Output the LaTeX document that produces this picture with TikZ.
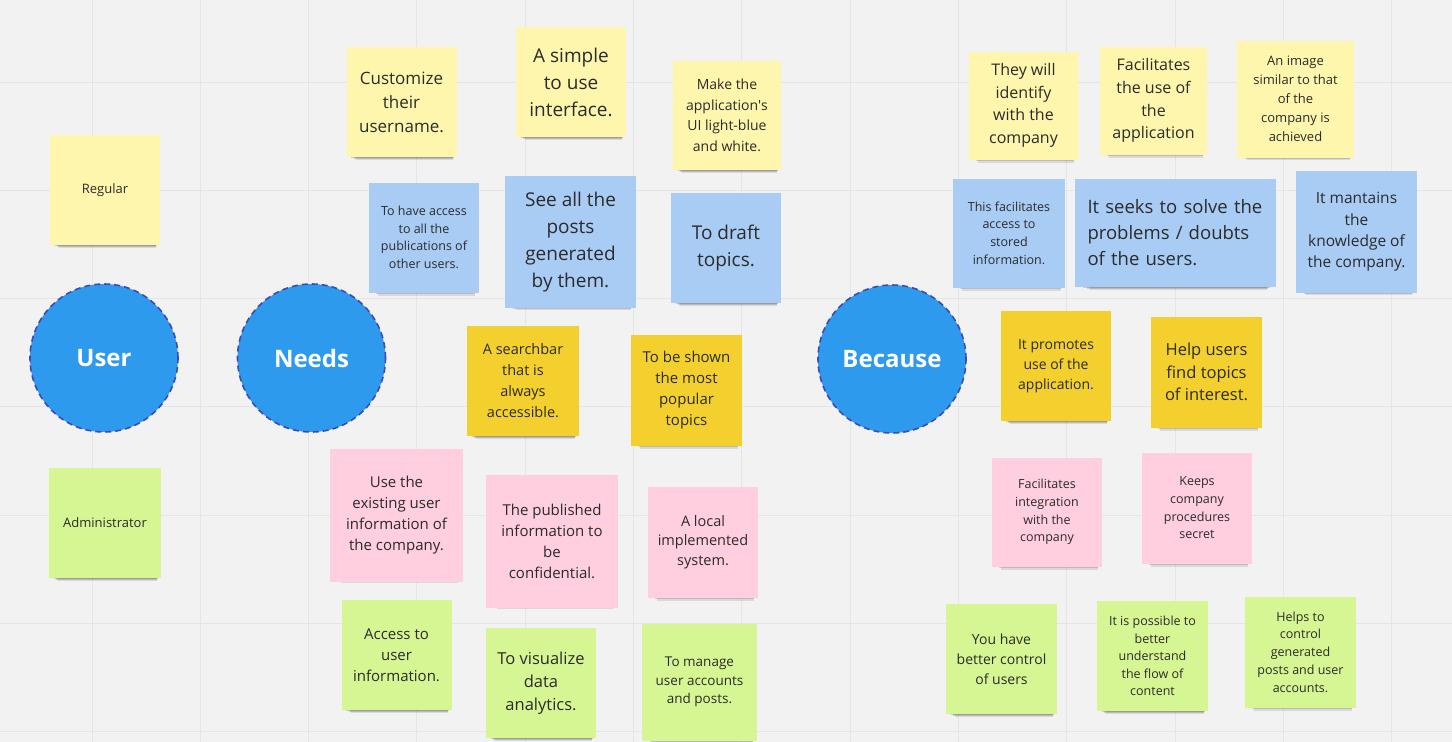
\documentclass[tikz,border=0pt]{standalone}
\usepackage{fontspec}
\setmainfont{Open Sans}
\usetikzlibrary{shadows}
\definecolor{board}{HTML}{F2F2F2}
\definecolor{gridc}{HTML}{E5E5E5}
\definecolor{pale}{HTML}{FFF6AD}
\definecolor{sky}{HTML}{A8CCF4}
\definecolor{gold}{HTML}{F3D02E}
\definecolor{rose}{HTML}{FFCEDF}
\definecolor{lime}{HTML}{D6F593}
\definecolor{bubblec}{HTML}{2E9AEE}
\definecolor{rim}{HTML}{4049B0}
\definecolor{ink}{HTML}{2B2B2B}
\begin{document}
\begin{tikzpicture}[x=1pt,y=-1pt,
  sticky/.style={fill=#1, minimum width=110pt, minimum height=110pt, inner sep=0pt, align=center, text=ink,
    drop shadow={shadow xshift=3pt, shadow yshift=-11pt, shadow scale=0.88, opacity=0.10, fill=black},
    drop shadow={shadow xshift=2pt, shadow yshift=-8pt, shadow scale=0.9, opacity=0.14, fill=black},
    drop shadow={shadow xshift=1pt, shadow yshift=-5pt, shadow scale=0.93, opacity=0.16, fill=black}},
  fs/.style 2 args={font=\fontsize{#1}{#2}\selectfont},
  bubble/.style={circle, fill=bubblec, draw=rim, line width=1.6pt, dash pattern=on 6pt off 4pt,
    minimum size=148pt, inner sep=0pt, text=white, font=\fontsize{24}{28}\selectfont\bfseries}]
\useasboundingbox (0,0) rectangle (1452,742);
\fill[board] (0,0) rectangle (1452,742);
\foreach \gx in {92,200.33,...,1400} \draw[gridc, line width=1pt] (\gx,0) -- (\gx,742);
\foreach \gy in {82,190.33,...,740} \draw[gridc, line width=1pt] (0,\gy) -- (1452,\gy);

\node[bubble] (user) at (104,358) {User};
\node[bubble] (needs) at (311.5,358) {Needs};
\node[bubble] (because) at (892,359) {Because};

\node[sticky=pale, fs={13}{18}] (reg) at (105,190) {Regular};
\node[sticky=lime, fs={13}{18}, minimum width=112pt] (adm) at (105,523) {Administrator};

\node[sticky=pale, fs={17}{24}] (name) at (401.5,102) {Customize\\their\\username.};
\node[sticky=sky, fs={12.5}{17.5}] (pubs) at (424,237.5) {To have access\\to all the\\publications of\\other users.};
\node[sticky=gold, fs={14.5}{21}, minimum width=112pt] (search) at (523,381) {A searchbar\\that is\\always\\accessible.};
\node[sticky=rose, fs={15}{21}, minimum width=133pt, minimum height=133pt] (existing) at (396.5,515) {Use the\\existing user\\information of\\the company.};
\node[sticky=lime, fs={15}{21}] (userinfo) at (396.5,655) {Access to\\user\\information.};
\node[sticky=pale, fs={19}{27}] (simple) at (571,82) {A simple\\to use\\interface.};
\node[sticky=sky, fs={19}{27}, minimum width=131pt, minimum height=132pt] (posts) at (570.5,242) {See all the\\posts\\generated\\by them.};
\node[sticky=pale, fs={14}{20.5}, minimum width=108pt, minimum height=109pt] (colors) at (727,115.5) {Make the\\application\textquotesingle s\\UI light-blue\\and white.};
\node[sticky=sky, fs={19}{27}] (draft) at (726,248) {To draft\\topics.};
\node[sticky=gold, fs={15}{21}, minimum width=111pt, minimum height=111pt] (popular) at (686.5,390) {To be shown\\the most\\popular\\topics};
\node[sticky=rose, fs={15}{21}, minimum width=132pt, minimum height=133pt] (confid) at (552,541) {The published\\information to\\be\\confidential.};
\node[sticky=rose, fs={14.5}{19.7}, minimum height=111pt] (local) at (703,542) {A local\\implemented\\system.};
\node[sticky=lime, fs={16.5}{23}] (analytics) at (541,683) {To visualize\\data\\analytics.};
\node[sticky=lime, fs={13.5}{18.7}, minimum width=115pt, minimum height=117pt] (manage) at (699.5,682) {To manage\\user accounts\\and posts.};

\node[sticky=pale, fs={16}{22.5}, minimum width=109pt, minimum height=108pt] (identify) at (1023.5,105.5) {They will\\identify\\with the\\company};
\node[sticky=pale, fs={16}{22.7}, minimum width=107pt, minimum height=108pt] (easy) at (1153.5,100.5) {Facilitates\\the use of\\the\\application};
\node[sticky=pale, fs={13}{19}, minimum width=117pt, minimum height=117pt] (image) at (1295.5,99) {An image\\similar to that\\of the\\company is\\achieved};
\node[sticky=sky, fs={12.5}{17.7}, minimum width=112pt, minimum height=109pt] (stored) at (1009,233) {This facilitates\\access to\\stored\\information.};
\node[sticky=sky, fs={18.5}{26}, minimum width=201pt, minimum height=108pt, text width=176pt, align=left] (doubts) at (1175.5,233) {It seeks to solve the\\problems / doubts\\of the users.};
\node[sticky=sky, fs={15.5}{21.3}, minimum width=121pt, minimum height=122pt] (knowledge) at (1356.5,232) {It mantains\\the\\knowledge of\\the company.};
\node[sticky=gold, fs={14}{19.7}] (promotes) at (1056,366) {It promotes\\use of the\\application.};
\node[sticky=gold, fs={16.5}{22.3}, minimum width=111pt, minimum height=111pt] (findtopics) at (1206.5,372) {Help users\\find topics\\of interest.};
\node[sticky=rose, fs={12.5}{17.7}, minimum height=109pt] (integration) at (1047,512) {Facilitates\\integration\\with the\\company};
\node[sticky=rose, fs={12.5}{17.7}, minimum height=111pt] (procedures) at (1197,508) {Keeps\\company\\procedures\\secret};
\node[sticky=lime, fs={14}{20}, minimum width=111pt] (control) at (1001.5,659) {You have\\better control\\of users};
\node[sticky=lime, fs={12.5}{17.5}, minimum width=111pt] (flow) at (1152.5,656) {It is possible to\\better\\understand\\the flow of\\content};
\node[sticky=lime, fs={12.5}{17.7}, minimum width=111pt, minimum height=111pt] (moderate) at (1300.5,652) {Helps to\\control\\generated\\posts and user\\accounts.};
\end{tikzpicture}
\end{document}
